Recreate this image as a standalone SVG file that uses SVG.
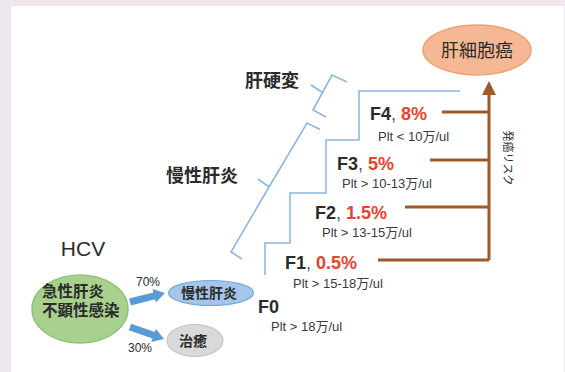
<svg xmlns="http://www.w3.org/2000/svg" width="565" height="372" viewBox="0 0 565 372">
<style>
text{font-family:"Liberation Sans","Noto Sans CJK JP",sans-serif;fill:#2b2b2b}
.b{font-weight:bold}
.lbl{font-size:18px;font-weight:bold}
.f{font-size:18px;font-weight:bold}
.red{fill:#e8432d}
.plt{font-size:13px;fill:#3a3a3a}
.blue{fill:none;stroke:#8db7e0;stroke-width:1.6;stroke-linejoin:miter}
.brown{fill:none;stroke:#a0592b;stroke-width:3}
</style>
<rect x="0" y="0" width="565" height="372" fill="#f0e6f0"/>
<rect x="11" y="6" width="553" height="366" fill="#ffffff"/>

<g id="connectors">
  <path class="blue" d="M265,275 V243 H290 V193 H326 V140 H359 V91 H460"/>
  <path class="blue" d="M320,129.5 L307,123 L269,187 L231,252 L242,259 M269,187 L258,179"/>
  <path class="blue" d="M347,82 L332,75 L322.5,92.5 L313,110 L326,117 M322.5,92.5 L311,85"/>
  <path class="brown" d="M489,260 V92 M378,260 H489 M405,207 H489 M430,160 H489 M442,112 H489"/>
  <polygon points="489,81 482,95 496,95" fill="#a0592b"/>
  <g transform="translate(130,302) rotate(-14.4)" fill="#5b9bd5">
    <polygon points="0,-3.5 25,-3.5 25,-7 36,0 25,7 25,3.5 0,3.5"/>
  </g>
  <g transform="translate(130,327) rotate(19.4)" fill="#5b9bd5">
    <polygon points="0,-3.5 25,-3.5 25,-7 36,0 25,7 25,3.5 0,3.5"/>
  </g>
</g>

<g id="hcv">
  <text x="83" y="256" font-size="21" text-anchor="middle" fill="#222">HCV</text>
  <ellipse cx="80" cy="309" rx="48" ry="34" fill="#a9d18e" stroke="#93c37a" stroke-width="1.5"/>
  <text x="42" y="297" font-size="15.5" class="b">急性肝炎</text>
  <text x="42" y="316" font-size="15.5" class="b">不顕性感染</text>
</g>
<g id="p70"><text x="148" y="286" font-size="12" text-anchor="middle" fill="#444">70%</text></g>
<g id="p30"><text x="140" y="352" font-size="12" text-anchor="middle" fill="#444">30%</text></g>

<g id="chronic">
  <ellipse cx="211" cy="293" rx="42.5" ry="12.5" fill="#a3c6e9" stroke="#74a9dc" stroke-width="1.2"/>
  <text x="209" y="298" font-size="14" class="b" text-anchor="middle">慢性肝炎</text>
</g>
<g id="cure">
  <ellipse cx="195" cy="340.5" rx="28" ry="16" fill="#d9d9d9" stroke="#c4c4c4" stroke-width="1.2"/>
  <text x="193" y="345.5" font-size="14" class="b" text-anchor="middle">治癒</text>
</g>

<g id="hcc">
  <ellipse cx="477" cy="50" rx="54" ry="25" fill="#f6b894" stroke="#eda173" stroke-width="1.5"/>
  <text x="477" y="57" font-size="18" text-anchor="middle" fill="#3a3a3a">肝細胞癌</text>
</g>

<g id="label-cirrhosis"><text x="245" y="87" class="lbl">肝硬変</text></g>
<g id="label-chronic"><text x="166" y="182" class="lbl">慢性肝炎</text></g>

<g id="f0">
  <text x="258" y="313" class="f">F0</text>
  <text x="271" y="331" class="plt">Plt &gt; 18万/ul</text>
</g>
<g id="f1">
  <text x="285" y="269" class="f">F1<tspan font-weight="normal" fill="#555">, </tspan><tspan class="red">0.5%</tspan></text>
  <text x="293" y="288" class="plt">Plt &gt; 15-18万/ul</text>
</g>
<g id="f2">
  <text x="315" y="219" class="f">F2<tspan font-weight="normal" fill="#555">, </tspan><tspan class="red">1.5%</tspan></text>
  <text x="322" y="237" class="plt">Plt &gt; 13-15万/ul</text>
</g>
<g id="f3">
  <text x="337" y="170" class="f">F3<tspan font-weight="normal" fill="#555">, </tspan><tspan class="red">5%</tspan></text>
  <text x="342" y="188" class="plt">Plt &gt; 10-13万/ul</text>
</g>
<g id="f4">
  <text x="370" y="120" class="f">F4<tspan font-weight="normal" fill="#555">, </tspan><tspan class="red">8%</tspan></text>
  <text x="378" y="141" class="plt">Plt &lt; 10万/ul</text>
</g>

<g id="risk">
  <text transform="translate(508,158) rotate(90)" font-size="11" text-anchor="middle" dominant-baseline="central" fill="#555">発癌リスク</text>
</g>
</svg>
